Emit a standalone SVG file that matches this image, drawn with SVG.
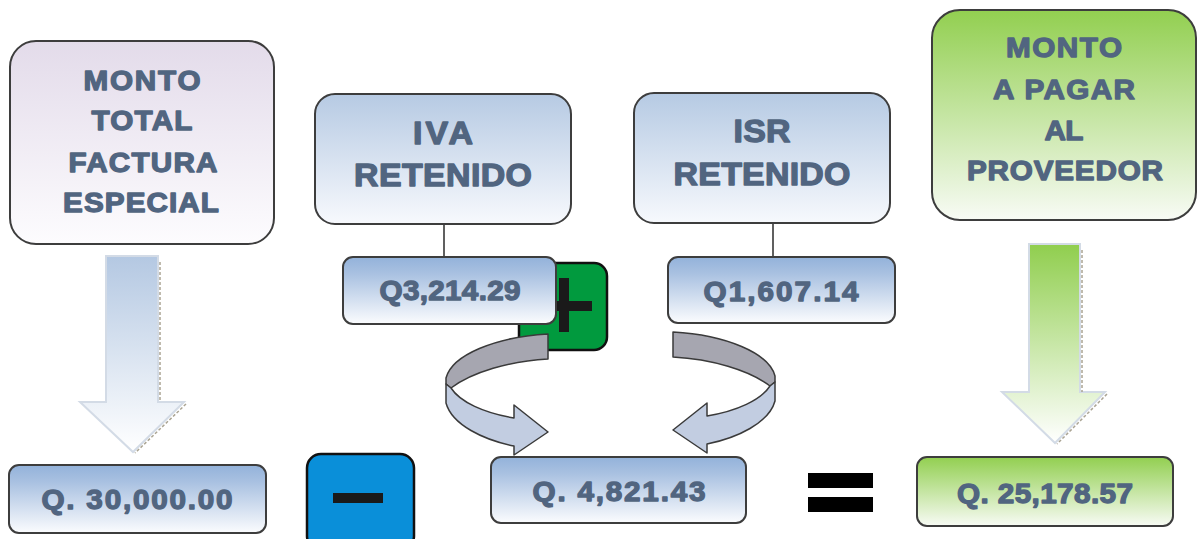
<svg xmlns="http://www.w3.org/2000/svg" width="1198" height="539" viewBox="0 0 1198 539">
  <defs>
    <linearGradient id="gLav" x1="0" y1="0" x2="0" y2="1">
      <stop offset="0" stop-color="#e3dbea"/>
      <stop offset="1" stop-color="#fdfcfe"/>
    </linearGradient>
    <linearGradient id="gBlueTall" x1="0" y1="0" x2="0" y2="1">
      <stop offset="0" stop-color="#b6cae3"/>
      <stop offset="1" stop-color="#f7f9fd"/>
    </linearGradient>
    <linearGradient id="gBlueVal" x1="0" y1="0" x2="0" y2="1">
      <stop offset="0" stop-color="#93b2da"/>
      <stop offset="0.25" stop-color="#a9c1e1"/>
      <stop offset="1" stop-color="#fbfcfe"/>
    </linearGradient>
    <linearGradient id="gGreen" x1="0" y1="0" x2="0" y2="1">
      <stop offset="0" stop-color="#92cf50"/>
      <stop offset="1" stop-color="#f8fbf5"/>
    </linearGradient>
    <linearGradient id="gArrowBlue" x1="0" y1="0" x2="0" y2="1">
      <stop offset="0" stop-color="#b4c8e2"/>
      <stop offset="1" stop-color="#ffffff"/>
    </linearGradient>
    <linearGradient id="gArrowGreen" x1="0" y1="0" x2="0" y2="1">
      <stop offset="0" stop-color="#90ce4e"/>
      <stop offset="1" stop-color="#ffffff"/>
    </linearGradient>
    <!-- curved ribbon arrow: gray back band + light blue front band with head -->
    <g id="curl">
      <path class="curlBack" d="M548,334 C495,337 452,355 446,378 L446,384 L451,388 C472,372 510,361 548,359 Z"/>
      <path class="curlFront" d="M446,384 L446,403 C452,425 484,440 514,446 L514,455 L548,432 L514,405 L514,418 C484,413 460,402 451,388 Z"/>
    </g>
  </defs>
  <style>
    .box { stroke: #3d3d3d; stroke-width: 2; }
    .lbl { font-family: "Liberation Sans", Arial, sans-serif; font-weight: bold; fill: #516580;
           stroke: #516580; stroke-width: 1.3; stroke-linejoin: round; text-anchor: middle; }
    .link { stroke: #2b2b2b; stroke-width: 1.5; fill: none; }
    .curlBack { fill: #a6a6b0; stroke: #3a3a3a; stroke-width: 1.5; stroke-linejoin: round; }
    .curlFront { fill: #c2cde1; stroke: #3a3a3a; stroke-width: 1.5; stroke-linejoin: round; }
    .bigArrow { stroke: #d3dbe6; stroke-width: 2; stroke-linejoin: miter; }
    .edgeShade { fill: none; stroke: #aaa493; stroke-width: 1.5; stroke-dasharray: 3 2; }
    .sign { fill: #1a1a1a; }
  </style>

  <!-- connectors -->
  <g id="connectors">
    <line class="link" x1="444" y1="224" x2="444" y2="257"/>
    <line class="link" x1="773" y1="223" x2="773" y2="257"/>
    <g id="downArrowLeft">
      <path class="bigArrow" fill="url(#gArrowBlue)" d="M106,256 L158,256 L158,402 L184,402 L133,452 L80,402 L106,402 Z"/>
      <path class="edgeShade" d="M160,262 L160,402 M186,404 L135,453"/>
    </g>
    <g id="downArrowRight">
      <path class="bigArrow" fill="url(#gArrowGreen)" d="M1029,244 L1080,244 L1080,392 L1105,392 L1055,443 L1002,392 L1029,392 Z"/>
      <path class="edgeShade" d="M1082,250 L1082,392 M1107,394 L1057,444"/>
    </g>
  </g>

  <!-- total invoice amount -->
  <g id="nodeTotal">
    <rect class="box" x="10" y="41" width="264" height="203" rx="26" fill="url(#gLav)"/>
    <text class="lbl" font-size="28" transform="matrix(1.06 0 0 1 142 90)" textLength="110.4" lengthAdjust="spacing">MONTO</text>
    <text class="lbl" font-size="28" transform="matrix(1.06 0 0 1 142 130)" textLength="95.3" lengthAdjust="spacing">TOTAL</text>
    <text class="lbl" font-size="28" transform="matrix(1.06 0 0 1 143 172)" textLength="140.6" lengthAdjust="spacing">FACTURA</text>
    <text class="lbl" font-size="28" transform="matrix(1.06 0 0 1 141 212)" textLength="147.2" lengthAdjust="spacing">ESPECIAL</text>
  </g>

  <!-- plus sign -->
  <g id="plusSign">
    <rect x="519" y="263" width="88" height="87" rx="13" fill="#019a3e" stroke="#111" stroke-width="2.5"/>
    <rect class="sign" x="559" y="278" width="10" height="54"/>
    <rect class="sign" x="536" y="301" width="56" height="10"/>
  </g>

  <!-- withheld VAT -->
  <g id="nodeIva">
    <rect class="box" x="315" y="94" width="256" height="130" rx="20" fill="url(#gBlueTall)"/>
    <text class="lbl" font-size="32" transform="matrix(1.06 0 0 1 443 144)" textLength="56.6" lengthAdjust="spacing">IVA</text>
    <text class="lbl" font-size="32" transform="matrix(1.06 0 0 1 443 186)" textLength="167.9" lengthAdjust="spacing">RETENIDO</text>
  </g>
  <g id="valueIva">
    <rect class="box" x="343" y="257" width="213" height="67" rx="10" fill="url(#gBlueVal)"/>
    <text class="lbl" font-size="28" transform="matrix(1.06 0 0 1 450 300)" textLength="133" lengthAdjust="spacing">Q3,214.29</text>
  </g>

  <!-- withheld income tax -->
  <g id="nodeIsr">
    <rect class="box" x="634" y="93" width="256" height="130" rx="20" fill="url(#gBlueTall)"/>
    <text class="lbl" font-size="32" transform="matrix(1.06 0 0 1 762 142)" textLength="53.8" lengthAdjust="spacing">ISR</text>
    <text class="lbl" font-size="32" transform="matrix(1.06 0 0 1 762 185)" textLength="167" lengthAdjust="spacing">RETENIDO</text>
  </g>
  <g id="valueIsr">
    <rect class="box" x="668" y="257" width="227" height="66" rx="10" fill="url(#gBlueVal)"/>
    <text class="lbl" font-size="28" transform="matrix(1.06 0 0 1 781 301)" textLength="146.2" lengthAdjust="spacing">Q1,607.14</text>
  </g>

  <!-- curved arrows into the withheld total -->
  <g id="curls">
    <use href="#curl"/>
    <use href="#curl" transform="translate(1221,-2) scale(-1,1)"/>
  </g>

  <!-- withheld total -->
  <g id="nodeRetenido">
    <rect class="box" x="491" y="457" width="255" height="66" rx="10" fill="url(#gBlueVal)"/>
    <text class="lbl" font-size="28" transform="matrix(1.06 0 0 1 619 501)" textLength="163.2" lengthAdjust="spacing">Q. 4,821.43</text>
  </g>

  <!-- invoice value -->
  <g id="valueTotal">
    <rect class="box" x="9" y="465" width="257" height="68" rx="10" fill="url(#gBlueVal)"/>
    <text class="lbl" font-size="28" transform="matrix(1.06 0 0 1 137 509)" textLength="180.2" lengthAdjust="spacing">Q. 30,000.00</text>
  </g>

  <!-- minus sign -->
  <g id="minusSign">
    <rect x="307" y="454" width="107" height="96" rx="14" fill="#0a8fd9" stroke="#111" stroke-width="2.5"/>
    <rect class="sign" x="333" y="493" width="50" height="10"/>
  </g>

  <!-- equals sign -->
  <g id="equalsSign">
    <rect x="808" y="473" width="65" height="15" fill="#000"/>
    <rect x="808" y="497" width="65" height="15" fill="#000"/>
  </g>

  <!-- amount payable to supplier -->
  <g id="nodePagar">
    <rect class="box" x="932" y="10" width="264" height="210" rx="28" fill="url(#gGreen)"/>
    <text class="lbl" font-size="28" transform="matrix(1.06 0 0 1 1064 57)" textLength="109.4" lengthAdjust="spacing">MONTO</text>
    <text class="lbl" font-size="28" transform="matrix(1.06 0 0 1 1064 99)" textLength="134" lengthAdjust="spacing">A PAGAR</text>
    <text class="lbl" font-size="28" transform="matrix(1.06 0 0 1 1064 140)" textLength="36.8" lengthAdjust="spacing">AL</text>
    <text class="lbl" font-size="28" transform="matrix(1.06 0 0 1 1065 180)" textLength="184.9" lengthAdjust="spacing">PROVEEDOR</text>
  </g>
  <g id="valuePagar">
    <rect class="box" x="917" y="457" width="256" height="69" rx="10" fill="url(#gGreen)"/>
    <text class="lbl" font-size="28" transform="matrix(1.06 0 0 1 1045 503)" textLength="166" lengthAdjust="spacing">Q. 25,178.57</text>
  </g>
</svg>
